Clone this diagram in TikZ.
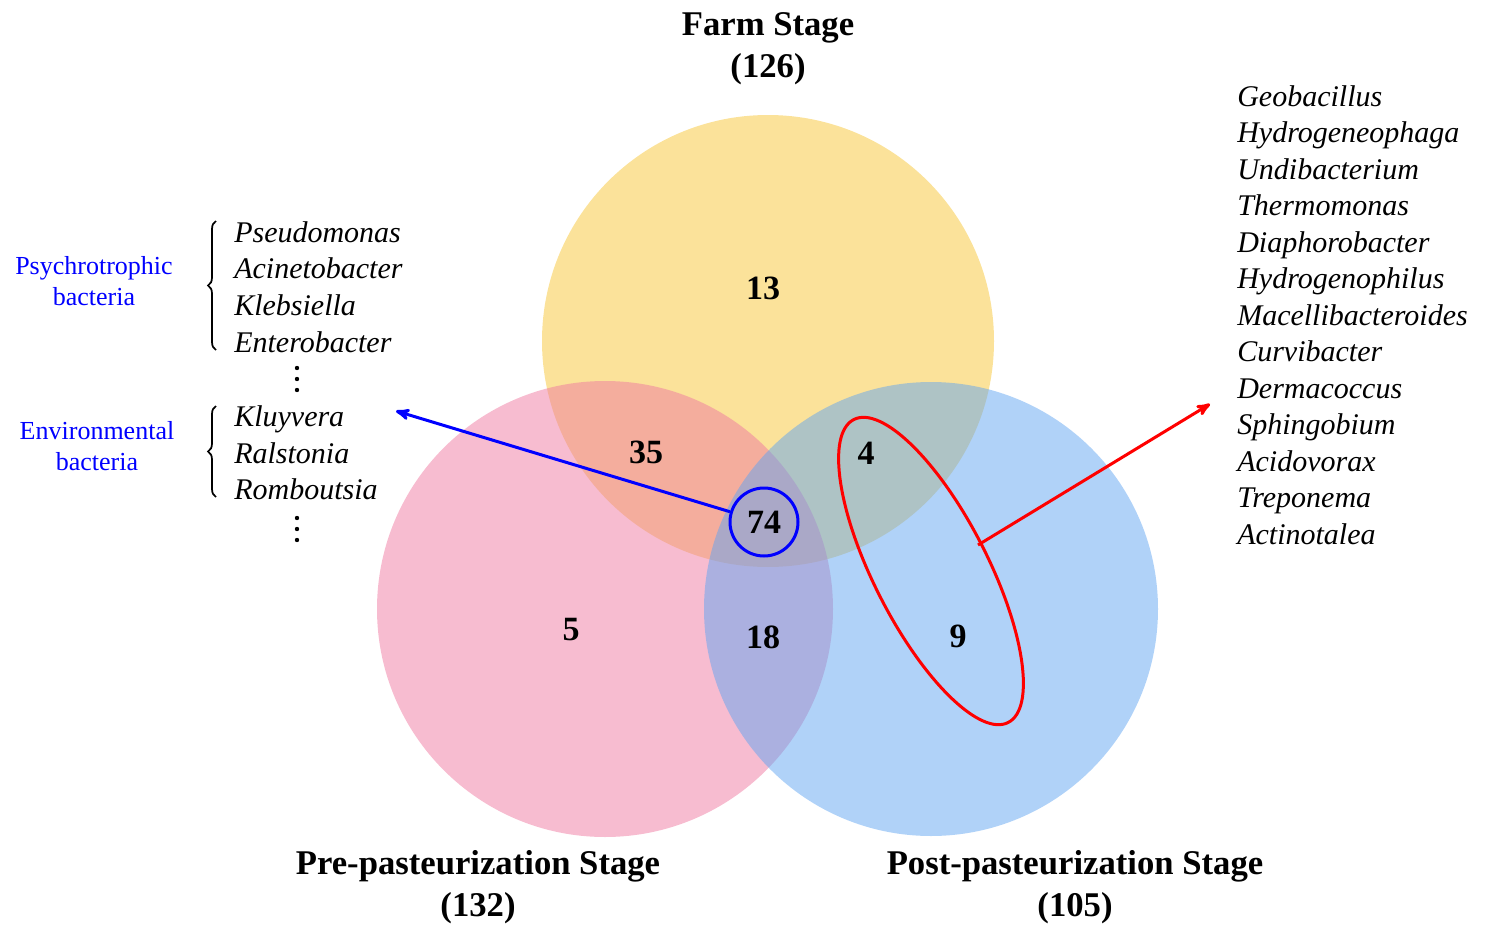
\documentclass[tikz,border=0pt]{standalone}
\usepackage{fontspec}
\setmainfont{Liberation Serif}
\usepackage{amsmath}
\usepackage{xcolor}
\usetikzlibrary{arrows,decorations.pathreplacing,positioning}
\tikzset{>=stealth'}
\definecolor{farmyellow}{RGB}{247,197,53}
\definecolor{prepink}{RGB}{239,121,161}
\definecolor{postblue}{RGB}{97,165,241}

\begin{document}
\begin{tikzpicture}[x=0.75pt, y=-0.75pt,
                    stage/.style={font=\fontsize{26}{31.5}\selectfont\bfseries, align=center},
                    count/.style={font=\fontsize{25.5}{30}\selectfont\bfseries},
                    genus/.style={font=\fontsize{22.5}{27.4}\selectfont\itshape, align=left, anchor=west, inner sep=0pt},
                    group/.style={font=\fontsize{19.5}{23.3}\selectfont, text=blue, align=center},
                    bubble/.style={fill opacity=0.5},
                    mybrace/.style={decorate, decoration={brace, amplitude=6pt}, line width=1.3pt},
                    pointer/.style={line width=2.25pt, ->},
                   ]

\useasboundingbox (0,0) rectangle (1486,928);

% three stages
\fill[bubble, farmyellow] (768,341) circle (226);
\fill[bubble, prepink] (605,609) circle (228);
\fill[bubble, postblue] (931,609) circle (227);

\node[stage] (farm) at (768,49) {Farm Stage\\(126)};
\node[stage] (pre) at (478,887) {Pre-pasteurization Stage\\(132)};
\node[stage] (post) at (1075,887) {Post-pasteurization Stage\\(105)};

% counts
\node[count] (n13) at (763,288) {13};
\node[count] (n35) at (646,452) {35};
\node[count] (n4) at (866,453) {4};
\node[count] (n5) at (571,630) {5};
\node[count] (n18) at (763,637) {18};
\node[count] (n9) at (958,636) {9};
\node[count, draw=blue, circle, line width=2.25pt, minimum size=51pt, inner sep=0pt] (n74) at (764,522) {74};

% shared genera
\node[genus] (psychlist) at (234,287) {Pseudomonas\\Acinetobacter\\Klebsiella\\Enterobacter};
\node[genus] (envlist) at (234,453) {Kluyvera\\Ralstonia\\Romboutsia};
\foreach \y in {368,379,390,518,529,540}
  \fill (297,\y) circle (2.2);

\node[group] (psych) at (94,281) {Psychrotrophic\\bacteria};
\node[group] (env) at (97,446) {Environmental\\bacteria};

\draw[mybrace] (216,350) -- (216,221);
\draw[mybrace] (216,497) -- (216,406);

\coordinate (tipL) at (396,411);
\draw[pointer, blue] (n74) -- (tipL);

% post only and farm-post
\coordinate (ellc) at (931,571);
\draw[red, line width=2.25pt, rotate around={-63:(ellc)}] (ellc) ellipse (170 and 57);

\node[genus] (postlist) at (1237,315) {Geobacillus\\Hydrogeneophaga\\Undibacterium\\Thermomonas\\Diaphorobacter\\Hydrogenophilus\\Macellibacteroides\\Curvibacter\\Dermacoccus\\Sphingobium\\Acidovorax\\Treponema\\Actinotalea};

\coordinate (ellR) at (978,545);
\coordinate (tipR) at (1210,404);
\draw[pointer, red] (ellR) -- (tipR);

\end{tikzpicture}
\end{document}
